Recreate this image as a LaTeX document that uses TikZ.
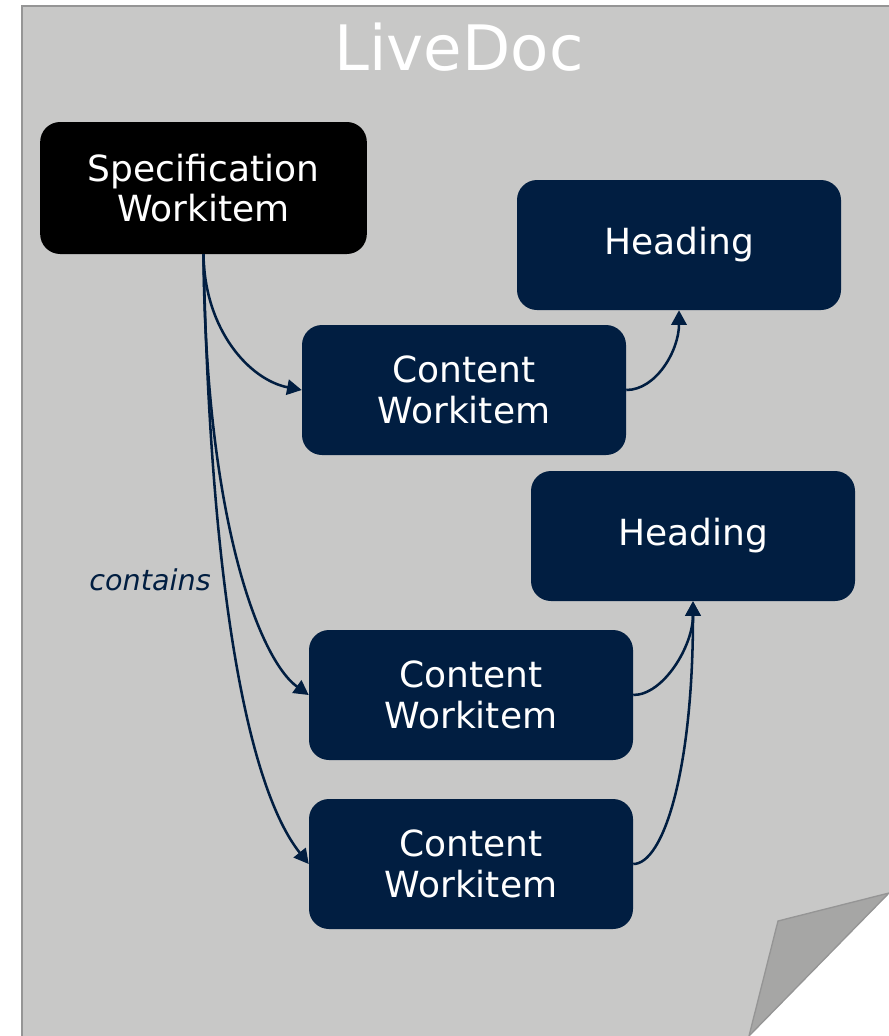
\documentclass[tikz,border=0pt]{standalone}
\usepackage{fontspec}
\setmainfont{DejaVu Sans}
\usetikzlibrary{arrows.meta}

\definecolor{navy}{HTML}{011E41}
\definecolor{paper}{HTML}{C8C8C7}
\definecolor{paperline}{HTML}{959595}
\definecolor{foldgray}{HTML}{A6A6A5}

\tikzset{
    wibox/.style={fill=navy, rounded corners=15pt, minimum width=243pt, minimum height=97.5pt,
        inner sep=0pt, align=center, text=white, font=\fontsize{27}{30.5}\selectfont},
    specbox/.style={wibox, fill=black, minimum width=245pt, minimum height=99pt},
    conn/.style={draw=navy, line width=1.9pt, -{Triangle[length=11pt,width=11.5pt]}},
}

\begin{document}
\begin{tikzpicture}[x=0.75pt,y=0.75pt]
        \useasboundingbox (0,0) rectangle (889,-1036);

        % Blatt
        \fill[paper] (22,-6) -- (889,-6) -- (889,-893) -- (749,-1036) -- (22,-1036) -- cycle;
        \draw[paperline, line width=2pt] (22,-1036) -- (22,-6) -- (889,-6);
        \draw[paperline, line width=1pt, fill=foldgray] (889,-893) -- (778,-921) -- (749,-1036) -- cycle;
        \node[anchor=base, text=white, font=\fontsize{47}{50}\selectfont] (title) at (459,-70) {LiveDoc};

        % Workitems
        \node[specbox] (spec) at (203.5,-188) {Specification\\Workitem};
        \foreach \n/\x/\y in {
            h1/679/245,
            h2/693/536
            } {
            \node[wibox] (\n) at (\x,-\y) {Heading};
        }
        \foreach \n/\x/\y in {
            c1/464/390,
            c2/471/695,
            c3/471/864
            } {
            \node[wibox] (\n) at (\x,-\y) {Content\\Workitem};
        }

        % contains
        \draw[conn] (spec.south) .. controls +(1,-76) and +(-52,10) .. (c1.west);
        \draw[conn] (spec.south) .. controls +(2,-266) and +(-49,35) .. (c2.west);
        \draw[conn] (spec.south) .. controls +(7,-346) and +(-59,74) .. (c3.west);
        \node[anchor=base east, inner sep=0pt, text=navy, font=\fontsize{21.5}{24}\selectfont\itshape] (contains) at (211,-590) {contains};

        % Headings
        \draw[conn] (c1.east) .. controls +(30,0) and +(0,-40) .. (h1.south);
        \draw[conn] (c2.east) .. controls +(30,0) and +(0,-45) .. (h2.south);
        \draw[conn] (c3.east) .. controls +(30,0) and +(0,-170) .. (h2.south);
\end{tikzpicture}
\end{document}
